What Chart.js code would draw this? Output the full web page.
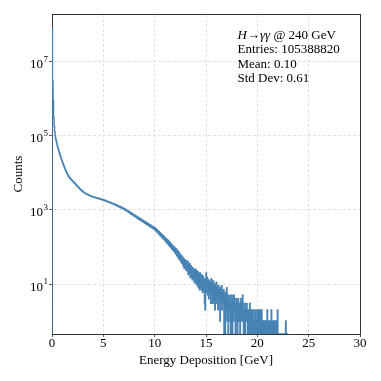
<!DOCTYPE html>
<html>
<head>
<meta charset="utf-8">
<script src="https://cdn.jsdelivr.net/npm/chart.js@4/dist/chart.umd.min.js"></script>
<style>
  body { margin: 0; background: #fff; }
</style>
</head>
<body>
<canvas id="grafico" width="381" height="381"></canvas>
<script>
// histogram: bins of 0.05 GeV starting at 0
const binStart = 0;
const binWidth = 0.05;
const counts = [
  80000000, 3000000, 900000, 320000, 180000, 130000, 100000, 82000, 72000, 61000,
  54000, 48500, 43500, 39000, 35000, 31500, 28300, 25500, 23500, 21300,
  19500, 17800, 16500, 15100, 14100, 12900, 12000, 11000, 10300, 9700,
  9150, 8650, 8150, 7750, 7400, 7100, 6850, 6600, 6400, 6200,
  6000, 5780, 5600, 5400, 5220, 5030, 4880, 4700, 4550, 4380,
  4250, 4090, 3960, 3820, 3700, 3580, 3500, 3410, 3300, 3190,
  3110, 3060, 2980, 2900, 2840, 2790, 2760, 2700, 2650, 2600,
  2580, 2530, 2470, 2440, 2410, 2380, 2350, 2320, 2300, 2270,
  2250, 2195, 2230, 2150, 2170, 2110, 2145, 2075, 2100, 2040,
  2065, 1995, 2030, 1960, 1990, 1925, 1955, 1890, 1920, 1855,
  1885, 1810, 1840, 1765, 1795, 1720, 1750, 1680, 1705, 1635,
  1665, 1595, 1625, 1555, 1585, 1515, 1545, 1475, 1505, 1440,
  1470, 1395, 1430, 1355, 1390, 1315, 1348, 1275, 1308, 1235,
  1270, 1198, 1235, 1162, 1198, 1128, 1165, 1093, 1130, 1060,
  1098, 1022, 1055, 978, 1012, 938, 972, 898, 935, 862,
  896, 826, 862, 790, 828, 758, 795, 728, 763, 698,
  732, 668, 705, 638, 678, 612, 650, 586, 626, 562,
  598, 540, 577, 516, 553, 496, 530, 475, 510, 456,
  490, 436, 472, 418, 453, 400, 434, 385, 417, 368,
  400, 352, 385, 338, 368, 325, 354, 310, 340, 298,
  330, 281, 310, 262, 292, 246, 274, 228, 258, 214,
  242, 200, 228, 188, 214, 175, 202, 164, 190, 154,
  178, 141, 168, 130, 158, 121, 149, 112, 139, 104,
  128, 97, 121, 89, 112, 82, 105, 77, 98, 71,
  92, 64, 88, 58, 80, 53, 74, 47, 68, 44,
  62, 39, 57, 36, 53, 31, 49, 27, 45, 26,
  44, 23, 37, 24, 41, 18, 33, 20, 36, 15,
  31, 16, 28, 13, 27, 14, 24, 11, 25, 12,
  24, 10, 22, 9, 21, 8, 19, 7, 20, 8,
  18, 7, 17, 6, 16, 7, 14, 3, 2, 13,
  20, 6, 15, 5, 13, 4, 12, 6, 11, 3,
  14, 5, 10, 3, 12, 4, 9, 2, 10, 4,
  11, 3, 8, 2, 9, 4, 7, 1, 8, 3,
  9, 2, 6, 3, 7, 0, 5, 0, 6, 2,
  8, 1, 5, 0, 4, 2, 5, 1, 0, 3,
  5, 0, 4, 1, 5, 2, 3, 0, 4, 1,
  3, 0, 4, 2, 1, 3, 0, 4, 2, 1,
  3, 5, 1, 0, 2, 3, 0, 2, 1, 3,
  2, 0, 1, 2, 0, 3, 1, 0, 2, 1,
  0, 2, 1, 0, 1, 2, 0, 1, 0, 2,
  1, 0, 2, 1, 0, 2, 0, 1, 2, 0,
  0, 1, 0, 0, 1, 0, 1, 0, 0, 2,
  0, 1, 0, 0, 1, 0, 0, 2, 0, 1,
  0, 0, 1, 0, 1, 0, 0, 1, 0, 2,
  0, 0, 0, 0, 0, 0, 0, 0, 0, 0,
  0, 0, 0, 0, 0, 1, 0, 0, 0, 0
];

const xTicks = [0, 5, 10, 15, 20, 25, 30];
const yTickExponents = [1, 3, 5, 7];
const yMin = Math.pow(10, -0.35);
const yMax = Math.pow(10, 8.29);

const statsTitle = [
  { text: 'H', italic: true },
  { text: '\u2192', italic: false },
  { text: '\u03b3\u03b3', italic: true },
  { text: ' @ 240 GeV', italic: false }
];
const statsLines = ['Entries: 105388820', 'Mean: 0.10', 'Std Dev: 0.61'];

const serif = '"Liberation Serif", "DejaVu Serif", serif';
const cor = '#4682b4';

// step points: left edges, plus closing points at both ends
const pontos = [{ x: binStart, y: yMin }];
counts.forEach(function (c, i) {
  pontos.push({ x: binStart + i * binWidth, y: c > 0 ? c : yMin });
});
pontos.push({ x: binStart + counts.length * binWidth, y: yMin });

const extras = {
  id: 'extras',
  beforeDatasetsDraw(chart) {
    const ctx = chart.ctx;
    const a = chart.chartArea;
    ctx.save();
    ctx.strokeStyle = '#333';
    ctx.lineWidth = 1;
    ctx.strokeRect(a.left + 0.5, a.top + 0.5, a.right - a.left, a.bottom - a.top);
    ctx.restore();
  },
  afterDraw(chart) {
    const ctx = chart.ctx;
    const ys = chart.scales.y;
    ctx.save();
    ctx.fillStyle = '#000';
    ctx.textAlign = 'left';
    ctx.textBaseline = 'alphabetic';
    yTickExponents.forEach(function (e) {
      const y = ys.getPixelForValue(Math.pow(10, e));
      ctx.font = '13px ' + serif;
      ctx.fillText('10', 30, y + 6.5);
      const w = ctx.measureText('10').width;
      ctx.font = '9px ' + serif;
      ctx.fillText(String(e), 30 + w + 0.5, y + 0.3);
    });

    let x = 237.5;
    const base = 39.3;
    statsTitle.forEach(function (p) {
      ctx.font = (p.italic ? 'italic ' : '') + '13px ' + serif;
      ctx.fillText(p.text, x, base);
      x += ctx.measureText(p.text).width;
    });
    ctx.font = '13px ' + serif;
    statsLines.forEach(function (t, i) {
      ctx.fillText(t, 237.5, base + 14.15 * (i + 1));
    });
    ctx.restore();
  }
};

new Chart(document.getElementById('grafico'), {
  type: 'line',
  data: {
    datasets: [{
      data: pontos,
      stepped: true,
      borderColor: cor,
      borderWidth: 1.4,
      pointRadius: 0,
      fill: false
    }]
  },
  options: {
    responsive: false,
    animation: false,
    events: [],
    layout: { padding: { top: 14, right: 21, left: 0, bottom: 0 } },
    plugins: { legend: { display: false }, tooltip: { enabled: false } },
    scales: {
      x: {
        type: 'linear',
        min: 0,
        max: 30,
        afterFit(s) { s.height = 47; },
        afterBuildTicks(s) { s.ticks = xTicks.map(v => ({ value: v })); },
        ticks: {
          color: '#000',
          font: { family: serif, size: 13 },
          padding: -1,
          maxRotation: 0,
          callback: v => String(v)
        },
        grid: { color: '#dadada', lineWidth: 0.8, tickLength: 3, tickColor: '#333' },
        border: { color: '#333', dash: [3, 2] },
        title: {
          display: true,
          text: 'Energy Deposition [GeV]',
          color: '#000',
          font: { family: serif, size: 13 },
          padding: { top: 0, bottom: 13 }
        }
      },
      y: {
        type: 'logarithmic',
        min: yMin,
        max: yMax,
        afterFit(s) { s.width = 52; },
        afterBuildTicks(s) { s.ticks = yTickExponents.map(e => ({ value: Math.pow(10, e) })); },
        ticks: { display: false },
        grid: { color: '#dadada', lineWidth: 0.8, tickLength: 3, tickColor: '#333' },
        border: { color: '#333', dash: [3, 2] },
        title: {
          display: true,
          text: 'Counts',
          color: '#000',
          font: { family: serif, size: 13 },
          padding: { top: 11, bottom: 0 }
        }
      }
    }
  },
  plugins: [extras]
});
</script>
</body>
</html>
